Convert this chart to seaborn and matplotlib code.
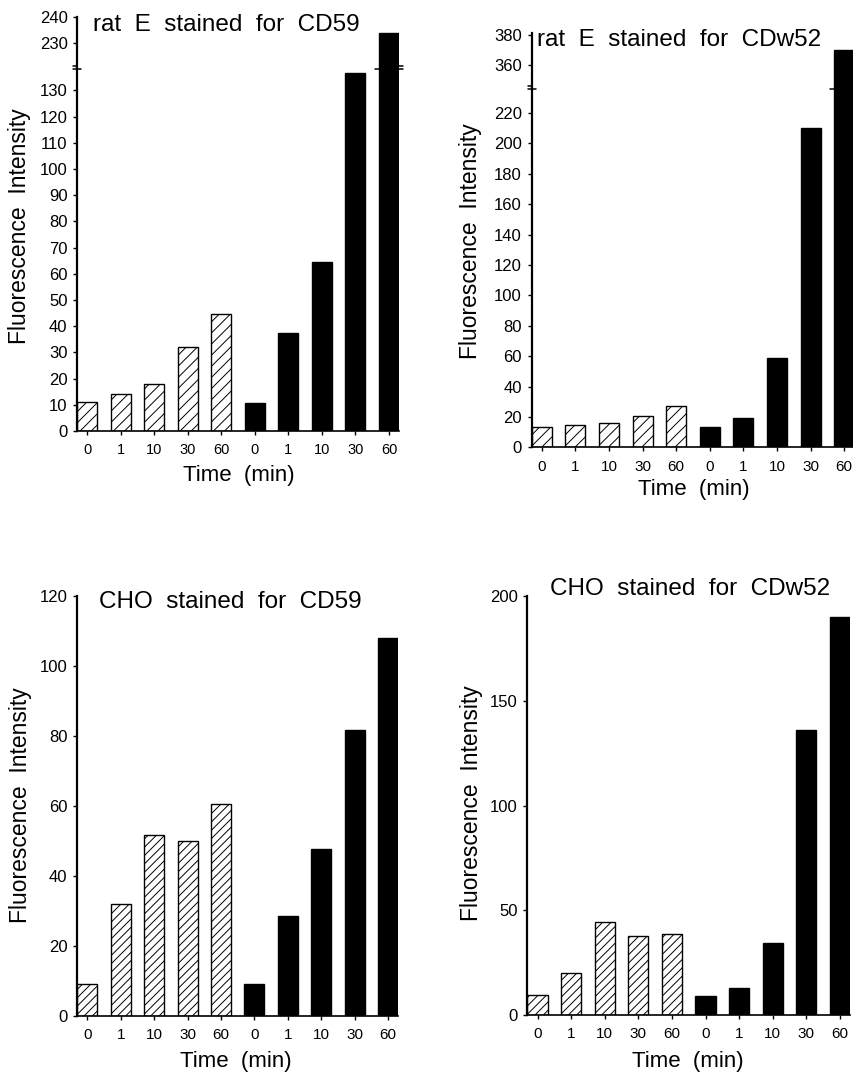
import matplotlib
matplotlib.use("Agg")
import matplotlib.pyplot as plt
import seaborn as sns
import pandas as pd
from matplotlib.transforms import blended_transform_factory

sns.set_theme(style="ticks", rc={"axes.edgecolor": "black", "xtick.color": "black",
                                 "ytick.color": "black", "text.color": "black",
                                 "axes.labelcolor": "black", "hatch.linewidth": 0.7})
plt.rcParams["font.family"] = ["Liberation Sans", "DejaVu Sans"]

# ---------------- data ----------------
times = ["0", "1", "10", "30", "60"]
tick_labels = times + times

ratE_cd59_hatched = [11, 14, 18, 32, 44.5]
ratE_cd59_solid = [10.5, 37.5, 64.5, 136.5, 234]

ratE_cdw52_hatched = [13.5, 14.5, 16, 20.5, 27]
ratE_cdw52_solid = [13.5, 19, 58.5, 210, 370]

cho_cd59_hatched = [9, 32, 51.5, 50, 60.5]
cho_cd59_solid = [9, 28.5, 47.5, 81.5, 108]

cho_cdw52_hatched = [9.5, 20, 44.5, 37.5, 38.5]
cho_cdw52_solid = [9, 13, 34.5, 136, 190]

titles = ["rat  E  stained  for  CD59", "rat  E  stained  for  CDw52",
          "CHO  stained  for  CD59", "CHO  stained  for  CDw52"]
xlabel = "Time  (min)"
ylabel = "Fluorescence  Intensity"

W, H = 854, 1076
fig = plt.figure(figsize=(W / 100, H / 100), dpi=100)


def px_rect(left, right, top, bottom):
    return [left / W, 1 - bottom / H, (right - left) / W, (bottom - top) / H]


def draw_bars(ax, hatched, solid, hatch, hatchcolor):
    df = pd.DataFrame({"pos": list(range(10)),
                       "value": list(hatched) + list(solid),
                       "group": ["h"] * 5 + ["s"] * 5})
    sns.barplot(data=df, x="pos", y="value", hue="group",
                palette={"h": "white", "s": "black"}, dodge=False, width=0.6,
                edgecolor="black", linewidth=1.0, saturation=1, errorbar=None,
                legend=False, ax=ax)
    for p in ax.patches:
        fc = p.get_facecolor()
        if fc[0] > 0.5:
            p.set_hatch(hatch)
            if hasattr(p, "set_hatchcolor"):
                try:
                    p.set_hatchcolor(hatchcolor)
                except Exception:
                    pass
    ax.set_xlim(-0.3, 9.3)
    ax.set_xlabel("")
    ax.set_ylabel("")
    for s in ["top", "right"]:
        ax.spines[s].set_visible(False)
    ax.spines["left"].set_linewidth(1.6)
    ax.spines["bottom"].set_linewidth(1.2)
    ax.tick_params(axis="y", direction="out", length=3, width=1, labelsize=12, pad=4)


def style_lower(ax, yticks, ylim, xsize):
    ax.set_ylim(*ylim)
    ax.set_yticks(yticks)
    ax.set_xticks(range(10))
    ax.set_xticklabels(tick_labels)
    ax.tick_params(axis="x", direction="out", length=3, width=1, labelsize=xsize, pad=6)


def style_upper(ax, yticks, ylim):
    ax.set_ylim(*ylim)
    ax.set_yticks(yticks)
    ax.spines["bottom"].set_visible(False)
    ax.tick_params(axis="x", bottom=False, labelbottom=False)


def break_marks(ax_low, ax_up):
    for ax, yv in [(ax_low, 1.0), (ax_up, 0.0)]:
        tr = blended_transform_factory(ax.transData, ax.transAxes)
        ax.plot([-0.42, -0.18], [yv, yv], transform=tr, color="black", lw=1.1, clip_on=False)
        ax.plot([8.58, 9.42], [yv, yv], transform=tr, color="black", lw=1.1, clip_on=False)


# ---------- panel A: rat E CD59 (broken axis) ----------
axA = fig.add_axes(px_rect(77.3, 399, 66, 431))
axA_u = fig.add_axes(px_rect(77.3, 399, 17, 69))
draw_bars(axA, ratE_cd59_hatched, ratE_cd59_solid, "///", "#555555")
draw_bars(axA_u, ratE_cd59_hatched, ratE_cd59_solid, "///", "#555555")
style_lower(axA, list(range(0, 131, 10)), (0, 139.3), 10.5)
style_upper(axA_u, [230, 240], (220, 240))
break_marks(axA, axA_u)

# ---------- panel B: rat E CDw52 (broken axis) ----------
axB = fig.add_axes(px_rect(531.7, 854.3, 86, 447.3))
axB_u = fig.add_axes(px_rect(531.7, 854.3, 33, 89))
draw_bars(axB, ratE_cdw52_hatched, ratE_cdw52_solid, "///", "#555555")
draw_bars(axB_u, ratE_cdw52_hatched, ratE_cdw52_solid, "///", "#555555")
style_lower(axB, list(range(0, 221, 20)), (0, 237.7), 11)
style_upper(axB_u, [360, 380], (344, 381.3))
break_marks(axB, axB_u)

# ---------- panel C: CHO CD59 ----------
axC = fig.add_axes(px_rect(77.3, 398, 595.7, 1015.7))
draw_bars(axC, cho_cd59_hatched, cho_cd59_solid, "////", "black")
style_lower(axC, list(range(0, 121, 20)), (0, 120), 11)

# ---------- panel D: CHO CDw52 ----------
axD = fig.add_axes(px_rect(527.5, 850, 596, 1015))
draw_bars(axD, cho_cdw52_hatched, cho_cdw52_solid, "////", "black")
style_lower(axD, [0, 50, 100, 150, 200], (0, 200), 11)

# ---------- text ----------
def ftext(x, y, s, **kw):
    fig.text(x / W, 1 - y / H, s, **kw)

title_pos = [(93, 31), (537, 46), (99, 608), (550, 595)]
for (x, y), t in zip(title_pos, titles):
    ftext(x, y, t, ha="left", va="baseline", fontsize=17.5)

ylab_pos = [(20, 226), (471, 241), (21, 805), (472, 803)]
for x, y in ylab_pos:
    ftext(x, y, ylabel, rotation=90, ha="center", va="center", fontsize=16.5)

xlab_pos = [(239, 475), (694, 489), (236, 1062), (688, 1062)]
for x, y in xlab_pos:
    ftext(x, y, xlabel, ha="center", va="center", fontsize=16)

fig.savefig("out.png", dpi=100)
